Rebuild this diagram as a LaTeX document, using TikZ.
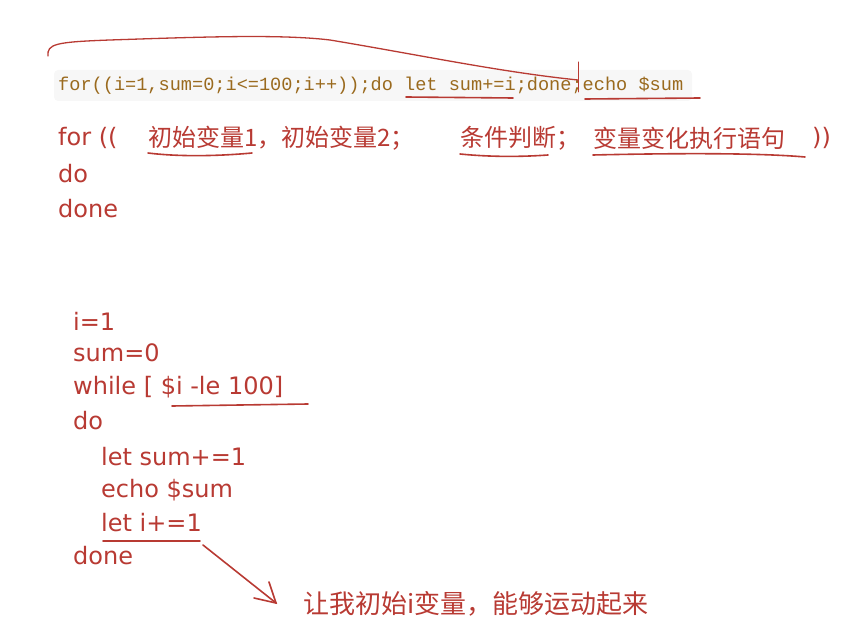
\documentclass[tikz,border=0pt]{standalone}
\usepackage{fontspec}
\newfontfamily\cjk{Noto Sans CJK SC}
\newfontfamily\latn{DejaVu Sans}
\setmonofont{Liberation Mono}
\definecolor{ink}{HTML}{B83A33}
\definecolor{codec}{HTML}{9A6A1E}
\begin{document}
\begin{tikzpicture}[x=1pt,y=-1pt,
  hand/.style={anchor=west,inner sep=0,text=ink,font=\cjk\fontsize{24}{26}\selectfont},
  lat/.style={anchor=west,inner sep=0,text=ink,font=\latn\fontsize{24}{26}\selectfont},
  code/.style={anchor=west,inner sep=0,text=codec,font=\ttfamily\fontsize{18.6}{20}\selectfont},
  pen/.style={draw=ink,line width=1.6pt,line cap=round}]
\useasboundingbox (0,0) rectangle (859,644);
\fill[gray!6,rounded corners=4] (54,70) rectangle (692,101);
\node[code] (c) at (58,86) {for((i=1,sum=0;i<=100;i++));do let sum+=i;done;echo \$sum};
\draw[pen,line width=1.3pt] (48,56) .. controls (47,44) and (55,42) .. (110,40) .. controls (200,37) and (280,34) .. (330,40) .. controls (420,55) and (500,72) .. (578,80);
\draw[pen,line width=1pt] (578,62) -- (578,92);
\draw[pen] (406,97) -- (513,98);
\draw[pen] (585,99) -- (700,98);
\node[lat] (f1) at (58,138) {for ((};
\node[hand] (f2) at (148,138) {初始变量1，初始变量2；};
\node[hand] (f3) at (460,138) {条件判断；};
\node[hand] (f4) at (593,138) {变量变化执行语句};
\node[lat] (f5) at (812,138) {))};
\draw[pen] (148,153) .. controls (180,157) and (220,156) .. (252,153);
\draw[pen] (460,154) .. controls (490,157) and (520,157) .. (548,155);
\draw[pen] (593,155) .. controls (680,153) and (760,153) .. (805,157);
\node[lat] (d1) at (58,174) {do};
\node[lat] (d2) at (58,209) {done};
\node[lat] (l1) at (73,321) {i=1};
\node[lat] (l2) at (73,353) {sum=0};
\node[lat] (l3) at (73,387) {while [ \$i -le 100]};
\node[lat] (l4) at (73,421) {do};
\node[lat] (l5) at (101,457) {let sum+=1};
\node[lat] (l6) at (101,490) {echo \$sum};
\node[lat] (l7) at (101,523) {let i+=1};
\node[lat] (l8) at (73,556) {done};
\draw[pen] (172,406) -- (308,404);
\draw[pen] (103,541) -- (200,541);
\coordinate (a0) at (203,545);
\node[hand,font=\cjk\fontsize{26}{28}\selectfont] (note) at (303,604) {让我初始i变量，能够运动起来};
\draw[pen] (a0) -- (276,603);
\draw[pen] (254,598) -- (276,603) -- (269,582);
\end{tikzpicture}
\end{document}
